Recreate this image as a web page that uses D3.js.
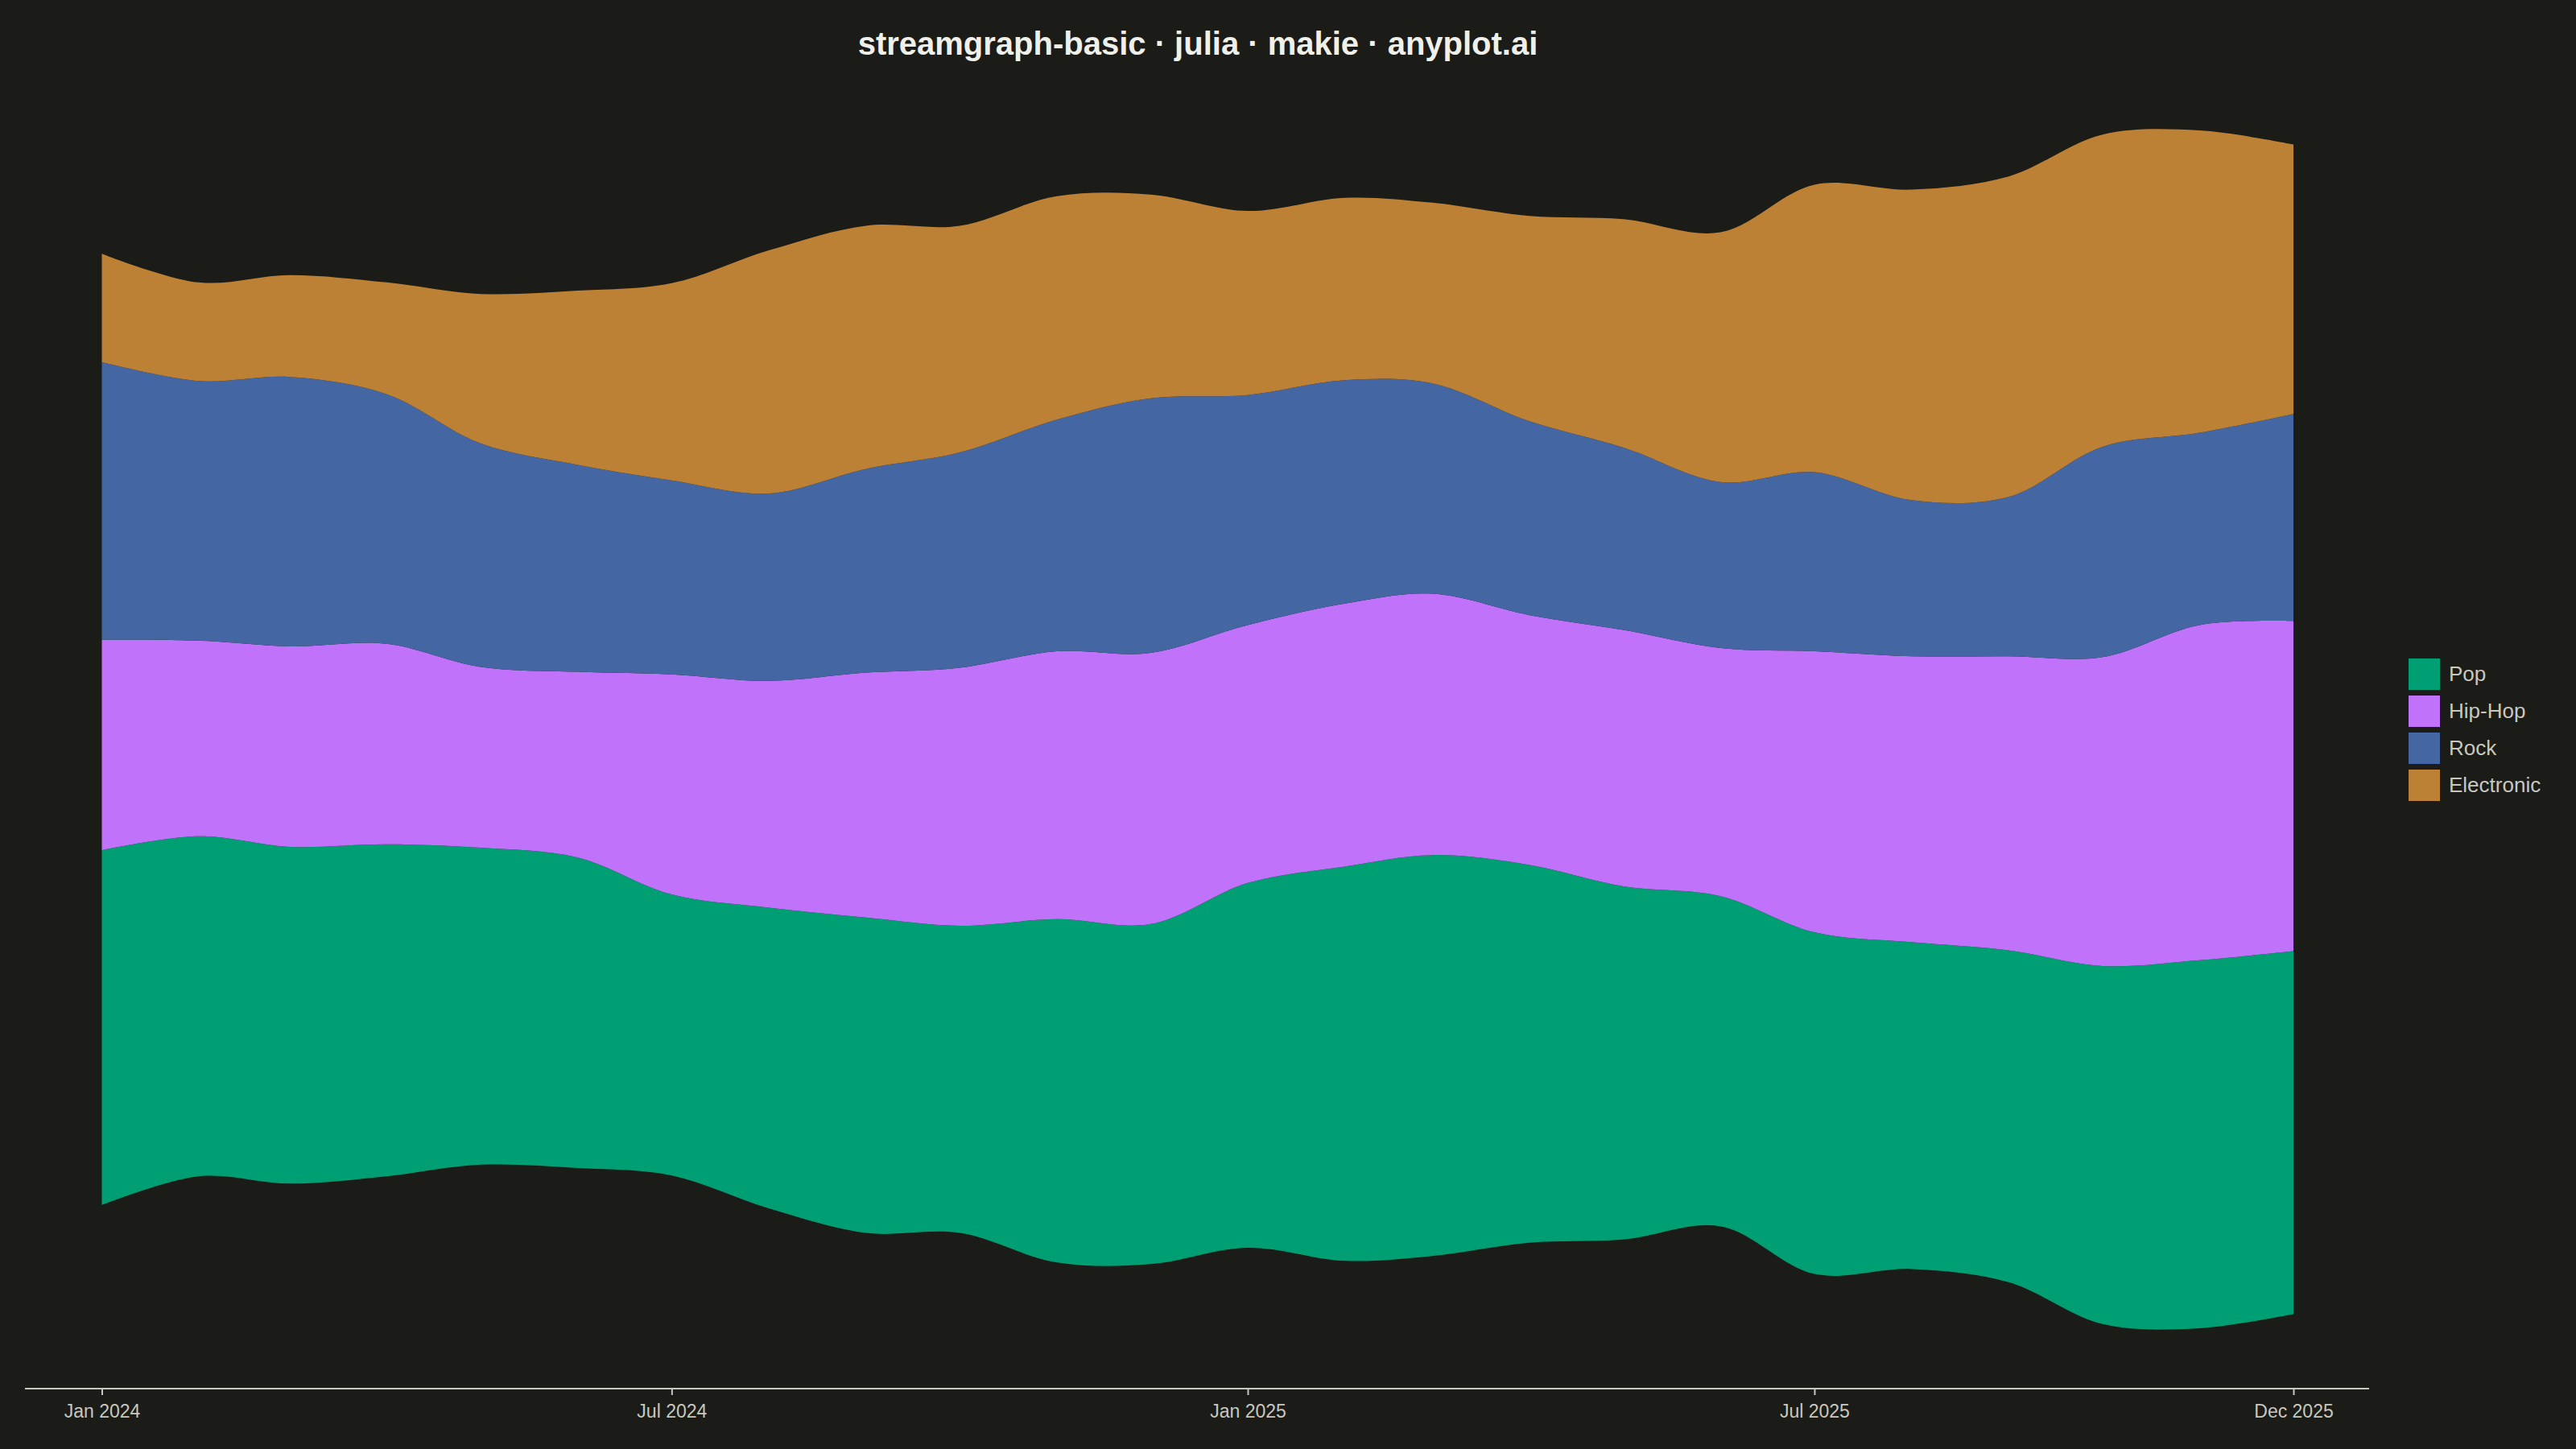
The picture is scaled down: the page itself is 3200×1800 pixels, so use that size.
<!DOCTYPE html>
<html>
<head>
<meta charset="utf-8">
<script src="https://cdn.jsdelivr.net/npm/d3@7"></script>
<style>
  body { margin: 0; background: #1b1b17; }
  text { font-family: "Liberation Sans", Arial, sans-serif; }
</style>
</head>
<body>
<svg id="chart" width="3200" height="1800"></svg>
<script>
var W = 3200, H = 1800;
var svg = d3.select("#chart");
svg.append("rect").attr("width", W).attr("height", H).attr("fill", "#1b1b17");

// monthly plays per genre
var pop  = [216,207,205,202,193,189,171,183,192,187,209,207,222,240,244,230,215,201,208,199,202,218,224,221];
var hip  = [128,119,122,122,110,113,134,138,149,157,163,165,157,160,159,152,156,151,171,174,179,188,204,201];
var rock = [169,158,164,152,136,126,118,114,124,131,141,155,140,136,128,118,111,101,109,95,97,128,117,126];
var elec = [66,60,62,68,91,106,120,148,148,138,136,124,112,111,110,125,139,152,175,189,195,190,184,164];

var keys = ["Pop", "Hip-Hop", "Rock", "Electronic"];
var colors = {"Pop": "#009e73", "Hip-Hop": "#c172fa", "Rock": "#4467a3", "Electronic": "#bd8135"};

var data = pop.map(function (p, i) {
  return {date: new Date(2024, i, 1), "Pop": p, "Hip-Hop": hip[i], "Rock": rock[i], "Electronic": elec[i]};
});

var series = d3.stack().keys(keys).offset(d3.stackOffsetSilhouette)(data);

var x = d3.scaleTime()
  .domain([new Date(2024, 0, 1), new Date(2025, 11, 1)])
  .range([126.5, 2849]);
var y = d3.scaleLinear().domain([-100, 100]).range([906 + 204.1, 906 - 204.1]);

var area = d3.area()
  .x(function (d) { return x(d.data.date); })
  .y0(function (d) { return y(d[0]); })
  .y1(function (d) { return y(d[1]); })
  .curve(d3.curveCatmullRom);

svg.append("g").selectAll("path")
  .data(series)
  .enter().append("path")
  .attr("d", area)
  .attr("fill", function (d) { return colors[d.key]; });

// x axis
svg.append("line").attr("x1", 31).attr("x2", 2943).attr("y1", 1725).attr("y2", 1725)
  .attr("stroke", "#c8c8c0").attr("stroke-width", 2);
var ticks = [new Date(2024,0,1), new Date(2024,6,1), new Date(2025,0,1), new Date(2025,6,1), new Date(2025,11,1)];
var axis = svg.append("g").attr("transform", "translate(0,1725)")
  .call(d3.axisBottom(x).tickValues(ticks).tickFormat(d3.timeFormat("%b %Y")).tickSize(8).tickSizeOuter(0));
axis.select(".domain").remove();
axis.selectAll("line").attr("stroke", "#c8c8c0").attr("stroke-width", 2);
axis.selectAll("text").attr("fill", "#c8c8c0").attr("font-size", 23).attr("dy", "1.1em");

// title
svg.append("text").attr("x", 1488).attr("y", 68).attr("text-anchor", "middle")
  .attr("fill", "#f0f0ea").attr("font-size", 40).attr("font-weight", "bold")
  .text("streamgraph-basic · julia · makie · anyplot.ai");

// legend
var leg = svg.append("g").attr("transform", "translate(2992,818)");
keys.forEach(function (k, i) {
  var g = leg.append("g").attr("transform", "translate(0," + (i * 46) + ")");
  g.append("rect").attr("width", 39).attr("height", 39).attr("fill", colors[k]);
  g.append("text").attr("x", 50).attr("y", 28).attr("fill", "#c8c8c0").attr("font-size", 26).text(k);
});
</script>
</body>
</html>
